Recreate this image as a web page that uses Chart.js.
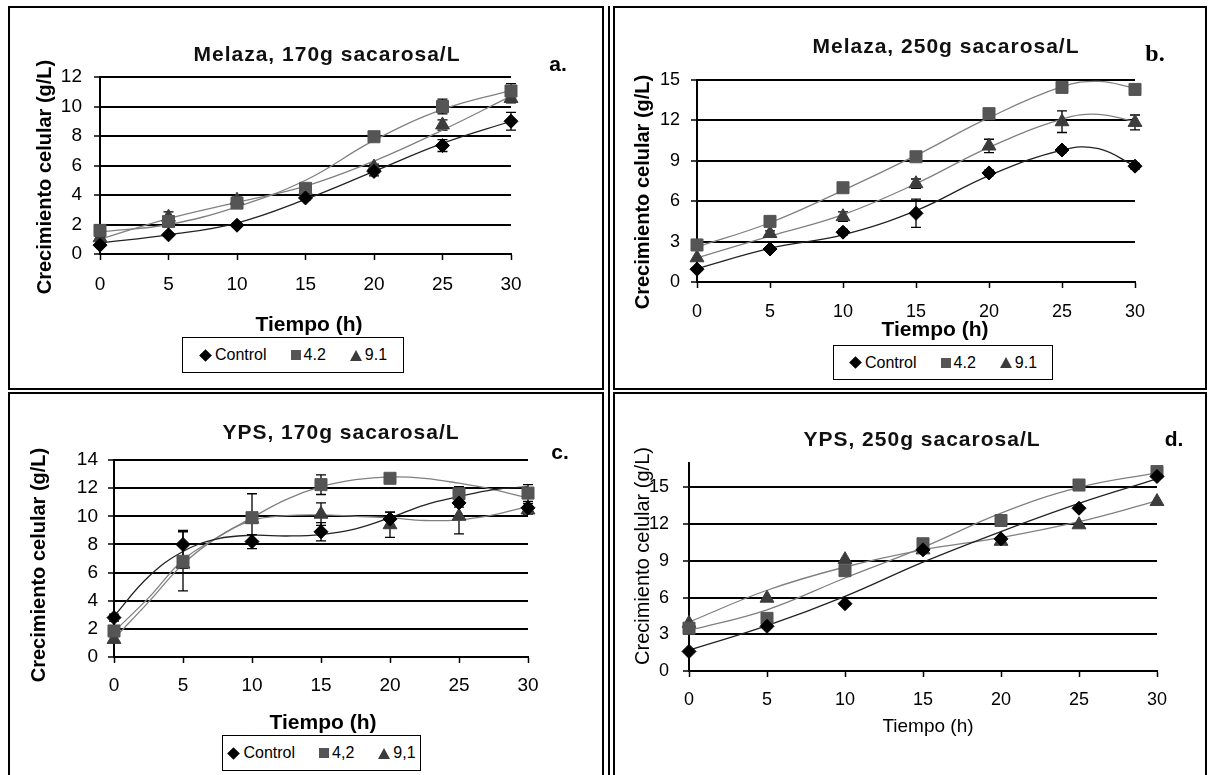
<!DOCTYPE html>
<html lang="es">
<head>
<meta charset="utf-8">
<title>Crecimiento celular</title>
<script src="https://cdn.jsdelivr.net/npm/chart.js@4.4.1/dist/chart.umd.min.js"></script>
<style>
  html, body { margin: 0; padding: 0; background: #fff; }
  body { width: 1208px; height: 775px; position: relative; overflow: hidden;
         font-family: "Liberation Sans", Arial, sans-serif; color: #000; }
  .panel { position: absolute; border: 2px solid #000; box-sizing: border-box; }
  .vline { position: absolute; width: 2px; background: #000; }
  canvas { position: absolute; }
  .txt { position: absolute; white-space: nowrap; transform: translate(-50%, -50%); line-height: 1; }
  .title { font-weight: bold; font-size: 21px; letter-spacing: 1px; color: #111; }
  .letter { font-weight: bold; font-size: 21px; }
  .serif { font-family: "Liberation Serif", "Times New Roman", serif; font-size: 24px; }
  .ytitle { transform: translate(-50%, -50%) rotate(-90deg); font-weight: bold; font-size: 20px; }
  .xtitle { font-weight: bold; font-size: 21px; }
  .plain { font-weight: normal; font-size: 20px; }
  .legend { position: absolute; border: 1.5px solid #000; box-sizing: border-box; display: flex;
            align-items: center; justify-content: center; gap: 24px; font-size: 16px; background: #fff; }
  .legend span { display: flex; align-items: center; }
  .mk { display: inline-block; margin-right: 3px; }
  .dia { width: 9px; height: 9px; background: #000; transform: rotate(45deg); margin-right: 5px; margin-left: 2px; }
  .sq { width: 10px; height: 10px; background: #555; }
  .tri { width: 0; height: 0; border-left: 6px solid transparent; border-right: 6px solid transparent;
         border-bottom: 11px solid #3c3c3c; }
</style>
</head>
<body>

<div class="panel" style="left:8px;top:6px;width:596px;height:384px"></div>
<div class="panel" style="left:613px;top:6px;width:594px;height:384px"></div>
<div class="panel" style="left:8px;top:392px;width:596px;height:390px"></div>
<div class="panel" style="left:613px;top:392px;width:594px;height:390px"></div>
<div class="vline" style="left:608px;top:6px;height:775px"></div>

<canvas id="chartA"></canvas>
<canvas id="chartB"></canvas>
<canvas id="chartC"></canvas>
<canvas id="chartD"></canvas>

<!-- a. -->
<div class="txt title" style="left:327px;top:53px">Melaza, 170g sacarosa/L</div>
<div class="txt letter" style="left:558px;top:63px">a.</div>
<div class="txt ytitle" style="left:44px;top:177px">Crecimiento celular (g/L)</div>
<div class="txt xtitle" style="left:309px;top:323px">Tiempo (h)</div>
<div class="legend" style="left:182px;top:337px;width:222px;height:36px">
  <span><i class="mk dia"></i>Control</span><span><i class="mk sq"></i>4.2</span><span><i class="mk tri"></i>9.1</span>
</div>

<!-- b. -->
<div class="txt title" style="left:946px;top:45px">Melaza, 250g sacarosa/L</div>
<div class="txt letter serif" style="left:1155px;top:53px">b.</div>
<div class="txt ytitle" style="left:642px;top:192px">Crecimiento celular (g/L)</div>
<div class="txt xtitle" style="left:935px;top:328px">Tiempo (h)</div>
<div class="legend" style="left:833px;top:345px;width:220px;height:35px">
  <span><i class="mk dia"></i>Control</span><span><i class="mk sq"></i>4.2</span><span><i class="mk tri"></i>9.1</span>
</div>

<!-- c. -->
<div class="txt title" style="left:341px;top:431px">YPS, 170g sacarosa/L</div>
<div class="txt letter" style="left:560px;top:451px">c.</div>
<div class="txt ytitle" style="left:38px;top:565px">Crecimiento celular (g/L)</div>
<div class="txt xtitle" style="left:323px;top:721px">Tiempo (h)</div>
<div class="legend" style="left:222px;top:735px;width:199px;height:36px">
  <span><i class="mk dia"></i>Control</span><span><i class="mk sq"></i>4,2</span><span><i class="mk tri"></i>9,1</span>
</div>

<!-- d. -->
<div class="txt title" style="left:922px;top:438px">YPS, 250g sacarosa/L</div>
<div class="txt letter" style="left:1174px;top:438px">d.</div>
<div class="txt ytitle plain" style="left:642px;top:556px">Crecimiento celular (g/L)</div>
<div class="txt plain" style="left:928px;top:725px;font-size:19px">Tiempo (h)</div>

<script>
// sampling times (h)
const HOURS = [0, 5, 10, 15, 20, 25, 30];

// a. Melaza, 170g sacarosa/L
const melaza170Control = [0.6, 1.3, 1.95, 3.8, 5.6, 7.35, 9.0];
const melaza170S42 = [1.6, 2.2, 3.45, 4.45, 7.95, 10.0, 11.05];
const melaza170S91 = [1.1, 2.5, 3.65, 4.3, 5.9, 8.75, 10.55];
const melaza170ControlErr = [0.1, 0.1, 0.15, 0.15, 0.3, 0.4, 0.6];
const melaza170S42Err = [0.15, 0.2, 0.2, 0.3, 0.15, 0.5, 0.5];
const melaza170S91Err = [0.1, 0.35, 0.2, 0.2, 0.2, 0.35, 0.3];
const melaza170TrendHours = [0, 5, 10, 15, 20, 25, 30];
const melaza170ControlTrend = [0.75, 1.3, 2.1, 3.7, 5.6, 7.5, 9.0];
const melaza170S42Trend = [1.5, 2.0, 3.2, 5.0, 7.7, 9.8, 11.1];
const melaza170S91Trend = [1.0, 2.4, 3.5, 4.6, 6.3, 8.4, 10.7];

// b. Melaza, 250g sacarosa/L
const melaza250Control = [0.95, 2.45, 3.7, 5.1, 8.1, 9.8, 8.6];
const melaza250S42 = [2.75, 4.5, 7.0, 9.3, 12.5, 14.45, 14.3];
const melaza250S91 = [1.8, 3.6, 4.85, 7.3, 10.1, 11.9, 11.85];
const melaza250ControlErr = [0, 0, 0.2, 1.05, 0.2, 0.2, 0.2];
const melaza250S42Err = [0, 0, 0, 0, 0, 0, 0];
const melaza250S91Err = [0, 0.2, 0.35, 0.35, 0.5, 0.8, 0.55];
const melaza250TrendHours = [0, 5, 10, 15, 20, 25, 27.5, 30];
const melaza250ControlTrend = [1.0, 2.5, 3.5, 5.3, 7.9, 9.8, 9.9, 8.6];
const melaza250S42Trend = [2.6, 4.4, 6.8, 9.4, 12.2, 14.5, 14.9, 14.4];
const melaza250S91Trend = [1.8, 3.4, 5.0, 7.3, 10.0, 12.1, 12.45, 11.9];

// c. YPS, 170g sacarosa/L
const yps170Control = [2.8, 8.0, 8.2, 8.9, 9.8, 10.95, 10.6];
const yps170S42 = [1.85, 6.8, 9.9, 12.25, 12.7, 11.6, 11.65];
const yps170S91 = [1.25, 6.6, 9.8, 10.15, 9.4, 10.0, 10.45];
const yps170ControlErr = [0.25, 1.0, 0.5, 0.65, 0.5, 0.3, 0.3];
const yps170S42Err = [0.2, 2.1, 1.7, 0.7, 0.2, 0.5, 0.6];
const yps170S91Err = [0.2, 0.3, 0.3, 0.8, 0.9, 1.25, 0.3];
const yps170TrendHours = [0, 2.5, 5, 7.5, 10, 12.5, 15, 17.5, 20, 22.5, 25, 27.5, 30];
const yps170ControlTrend = [2.9, 5.7, 7.5, 8.4, 8.65, 8.6, 8.7, 9.1, 9.9, 10.8, 11.4, 11.9, 12.1];
const yps170S42Trend = [1.8, 4.2, 6.9, 8.5, 9.9, 11.2, 12.1, 12.6, 12.8, 12.7, 12.35, 11.9, 11.3];
const yps170S91Trend = [1.3, 3.9, 6.6, 8.5, 9.7, 10.05, 10.1, 10.0, 9.9, 9.7, 9.75, 10.1, 10.7];

// d. YPS, 250g sacarosa/L
const yps250Control = [1.6, 3.65, 5.5, 9.9, 10.8, 13.3, 15.9];
const yps250S42 = [3.5, 4.3, 8.2, 10.4, 12.3, 15.2, 16.3];
const yps250S91 = [3.9, 5.95, 9.1, 9.9, 10.6, 11.95, 13.85];
const yps250TrendHours = [0, 5, 10, 15, 20, 25, 30];
const yps250ControlTrend = [1.7, 3.7, 6.1, 8.9, 11.4, 13.7, 15.7];
const yps250S42Trend = [3.3, 5.0, 7.6, 10.1, 12.9, 15.0, 16.2];
const yps250S91Trend = [4.0, 6.6, 8.5, 9.9, 10.9, 12.2, 13.9];

const CONTROL_STYLE = { shape: 'rectRot', r: 7, color: '#000000', line: '#222222' };
const S42_STYLE = { shape: 'rect', r: 8.5, color: '#555555', line: '#808080' };
const S91_STYLE = { shape: 'triangle', r: 8, color: '#3c3c3c', line: '#808080' };

const Y_W = 50;   // fixed width of y scale box
const X_H = 40;   // fixed height of x scale box

function pts(xs, ys) {
  return xs.map(function (x, i) { return { x: x, y: ys[i] }; });
}

function markerSet(label, ys, errs, st) {
  return {
    type: 'scatter', label: label, data: pts(HOURS, ys), errors: errs,
    pointStyle: st.shape, pointRadius: st.r, pointHoverRadius: st.r,
    backgroundColor: st.color, borderColor: st.color, borderWidth: 1, clip: false
  };
}

function trendSet(hours, ys, st) {
  return {
    type: 'line', data: pts(hours, ys), borderColor: st.line, borderWidth: 1.3,
    pointRadius: 0, tension: 0.4, fill: false, clip: false
  };
}

// draws the vertical error bars under the markers
const errorBarsPlugin = {
  id: 'errorBars',
  beforeDatasetsDraw: function (chart) {
    var ctx = chart.ctx, xs = chart.scales.x, ys = chart.scales.y;
    ctx.save();
    ctx.strokeStyle = '#000';
    ctx.lineWidth = 1.3;
    chart.data.datasets.forEach(function (ds) {
      if (!ds.errors) return;
      ds.data.forEach(function (p, i) {
        var e = ds.errors[i];
        if (!e) return;
        var x = xs.getPixelForValue(p.x);
        var y1 = ys.getPixelForValue(p.y + e);
        var y2 = ys.getPixelForValue(p.y - e);
        ctx.beginPath();
        ctx.moveTo(x, y1); ctx.lineTo(x, y2);
        ctx.moveTo(x - 5, y1); ctx.lineTo(x + 5, y1);
        ctx.moveTo(x - 5, y2); ctx.lineTo(x + 5, y2);
        ctx.stroke();
      });
    });
    ctx.restore();
  }
};

function buildPanel(id, p) {
  var canvas = document.getElementById(id);
  canvas.width = p.box[2];
  canvas.height = p.box[3];
  canvas.style.left = p.box[0] + 'px';
  canvas.style.top = p.box[1] + 'px';

  var padding = {
    left: p.area[0] - p.box[0] - Y_W,
    top: p.area[1] - p.box[1],
    right: p.box[0] + p.box[2] - p.area[2],
    bottom: p.box[1] + p.box[3] - p.area[3] - X_H
  };
  var tickFont = { family: '"Liberation Sans", Arial, sans-serif', size: p.fontSize };

  return new Chart(canvas.getContext('2d'), {
    type: 'scatter',
    data: {
      datasets: [
        markerSet('Control', p.control, p.controlErr, CONTROL_STYLE),
        markerSet('4.2', p.s42, p.s42Err, S42_STYLE),
        markerSet('9.1', p.s91, p.s91Err, S91_STYLE),
        trendSet(p.trendHours, p.controlTrend, CONTROL_STYLE),
        trendSet(p.trendHours, p.s42Trend, S42_STYLE),
        trendSet(p.trendHours, p.s91Trend, S91_STYLE)
      ]
    },
    options: {
      responsive: false,
      animation: false,
      events: [],
      layout: { padding: padding },
      plugins: { legend: { display: false }, tooltip: { enabled: false } },
      scales: {
        x: {
          type: 'linear', min: 0, max: 30,
          ticks: { stepSize: 5, padding: p.xPad, font: tickFont, color: '#000' },
          grid: { drawOnChartArea: false, drawTicks: true, tickLength: 6, tickColor: '#000', tickWidth: 1.5 },
          border: { color: '#000', width: 2 },
          afterFit: function (s) { s.height = X_H; }
        },
        y: {
          type: 'linear', min: 0, max: p.yMax,
          ticks: { stepSize: p.yStep, padding: p.yPad, font: tickFont, color: '#000' },
          grid: { color: '#000', lineWidth: 2, drawTicks: true, tickLength: 6, tickColor: '#000', tickWidth: 1.5 },
          border: { color: '#000', width: 2 },
          afterFit: function (s) { s.width = Y_W; },
          afterBuildTicks: function (s) {
            s.ticks = s.ticks.filter(function (t) { return Math.abs(t.value / p.yStep - Math.round(t.value / p.yStep)) < 1e-6; });
          }
        }
      }
    },
    plugins: [errorBarsPlugin]
  });
}

document.addEventListener('DOMContentLoaded', function () {
  buildPanel('chartA', {
    box: [10, 8, 592, 380], area: [100, 77, 511, 254],
    yMax: 12, yStep: 2, fontSize: 19, xPad: 13, yPad: 12,
    control: melaza170Control, s42: melaza170S42, s91: melaza170S91,
    controlErr: melaza170ControlErr, s42Err: melaza170S42Err, s91Err: melaza170S91Err,
    trendHours: melaza170TrendHours, controlTrend: melaza170ControlTrend,
    s42Trend: melaza170S42Trend, s91Trend: melaza170S91Trend
  });
  buildPanel('chartB', {
    box: [615, 8, 590, 380], area: [697, 80, 1135, 282],
    yMax: 15, yStep: 3, fontSize: 18, xPad: 13, yPad: 11,
    control: melaza250Control, s42: melaza250S42, s91: melaza250S91,
    controlErr: melaza250ControlErr, s42Err: melaza250S42Err, s91Err: melaza250S91Err,
    trendHours: melaza250TrendHours, controlTrend: melaza250ControlTrend,
    s42Trend: melaza250S42Trend, s91Trend: melaza250S91Trend
  });
  buildPanel('chartC', {
    box: [10, 394, 592, 380], area: [114, 460, 528, 657],
    yMax: 14, yStep: 2, fontSize: 19, xPad: 11, yPad: 10,
    control: yps170Control, s42: yps170S42, s91: yps170S91,
    controlErr: yps170ControlErr, s42Err: yps170S42Err, s91Err: yps170S91Err,
    trendHours: yps170TrendHours, controlTrend: yps170ControlTrend,
    s42Trend: yps170S42Trend, s91Trend: yps170S91Trend
  });
  buildPanel('chartD', {
    box: [615, 394, 590, 380], area: [689, 463, 1157, 671],
    yMax: 17, yStep: 3, fontSize: 18, xPad: 12, yPad: 14,
    control: yps250Control, s42: yps250S42, s91: yps250S91,
    controlErr: null, s42Err: null, s91Err: null,
    trendHours: yps250TrendHours, controlTrend: yps250ControlTrend,
    s42Trend: yps250S42Trend, s91Trend: yps250S91Trend
  });
});
</script>
</body>
</html>
